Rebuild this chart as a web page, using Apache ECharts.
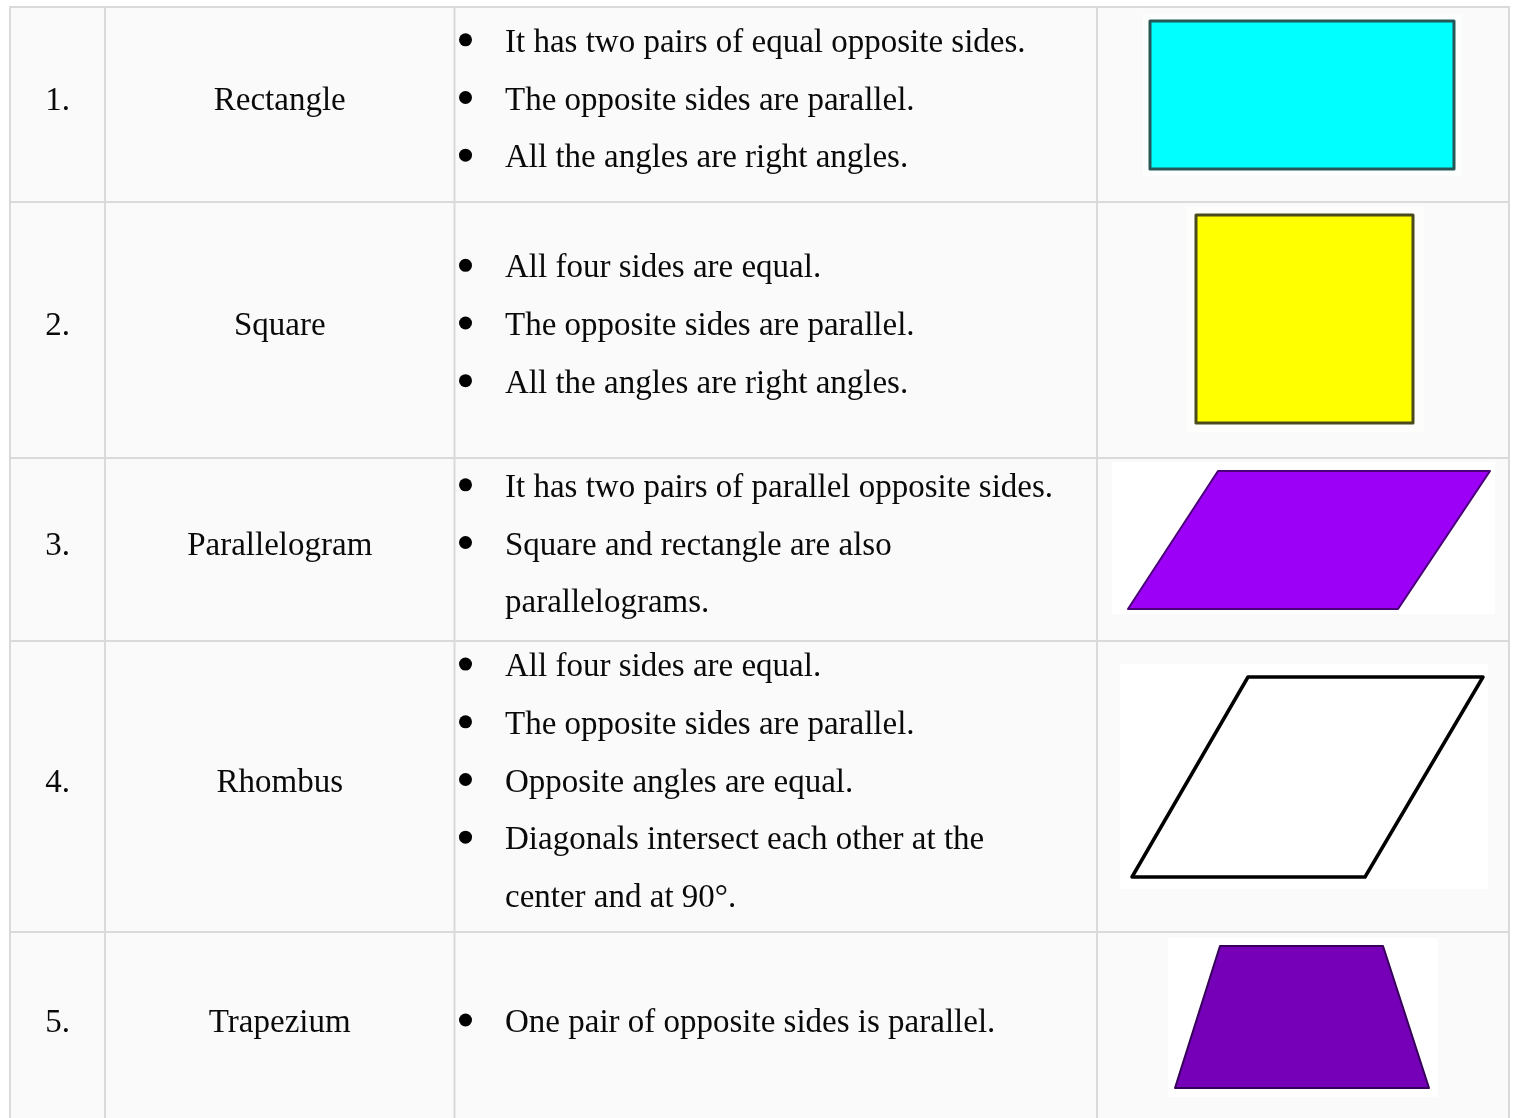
<!DOCTYPE html>
<html><head><meta charset="utf-8">
<script src="https://cdn.jsdelivr.net/npm/echarts@6/dist/echarts.min.js"></script>
<style>html,body{margin:0;padding:0;background:#fff;}#c{width:1514px;height:1118px;}</style>
</head><body><div id="c"></div>
<script>
// ---------- data ----------
const rowNumbers = ['1.', '2.', '3.', '4.', '5.'];
const shapeNames = ['Rectangle', 'Square', 'Parallelogram', 'Rhombus', 'Trapezium'];
const shapeProperties = [
  [['It has two pairs of equal opposite sides.'], ['The opposite sides are parallel.'], ['All the angles are right angles.']],
  [['All four sides are equal.'], ['The opposite sides are parallel.'], ['All the angles are right angles.']],
  [['It has two pairs of parallel opposite sides.'], ['Square and rectangle are also', 'parallelograms.']],
  [['All four sides are equal.'], ['The opposite sides are parallel.'], ['Opposite angles are equal.'], ['Diagonals intersect each other at the', 'center and at 90°.']],
  [['One pair of opposite sides is parallel.']]
];
// shape geometry (drawing units): top side, bottom side, height, shift of top-left corner vs bottom-left corner
const shapeTopSide = [304, 217, 272, 235, 163];
const shapeBottomSide = [304, 217, 270, 233, 254];
const shapeHeight = [148, 208, 138, 200, 142];
const shapeTopShift = [0, 0, 90, 116, 45];

// ---------- layout ----------
const colEdges = [10, 105, 454.5, 1097, 1509];
const rowEdges = [7, 202, 458, 641, 932, 1122];
const shapeCenterX = [1302, 1304.5, 1309, 1307.5, 1302];
const shapeCenterY = [95, 319, 540, 777, 1017];
const imageBox = [[1143, 14, 1462, 176], [1186, 207, 1424, 432], [1112, 462, 1495, 614], [1120, 664, 1488, 889], [1168, 938, 1438, 1097]];
const lineStep = 57.7;
const textLift = 7;
const textDrop = 3.5;
const bulletX = 465.5, textX = 505;

// ---------- styles ----------
const shapeFill = ['#00ffff', '#ffff00', '#9c00f7', '#ffffff', '#7500b8'];
const shapeStroke = ['#265656', '#4a4a1c', '#4a0078', '#000000', '#36005a'];
const shapeStrokeW = [3, 3, 2, 3.5, 2];
const imageBg = ['#fcfefe', '#fdfdfb', '#ffffff', '#ffffff', '#ffffff'];
const gridColor = '#dadada';
const cellBg = '#fafafa';
const textColor = '#0a0a0a';
const FONT = '"Liberation Serif", "DejaVu Serif", serif';
const FS = 33;

function renderItem(params, api) {
  const i = api.value(0);
  const P = (x, y) => api.coord([x, y]);
  const ch = [];
  const top = rowEdges[i], bot = rowEdges[i + 1];
  const a = P(colEdges[0], top), b = P(colEdges[4], bot);
  ch.push({type: 'rect', shape: {x: a[0], y: a[1], width: b[0] - a[0], height: b[1] - a[1]}, style: {fill: cellBg}});
  // image background
  const ib = imageBox[i];
  const ia = P(ib[0], ib[1]), ibb = P(ib[2], ib[3]);
  ch.push({type: 'rect', shape: {x: ia[0], y: ia[1], width: ibb[0] - ia[0], height: ibb[1] - ia[1]}, style: {fill: imageBg[i]}});
  // grid lines
  const hl1 = P(colEdges[0] - 1, top), hl2 = P(colEdges[4] + 1, top);
  ch.push({type: 'line', shape: {x1: hl1[0], y1: hl1[1], x2: hl2[0], y2: hl2[1]}, style: {stroke: gridColor, lineWidth: 2}});
  colEdges.forEach(cx => {
    const v1 = P(cx, top), v2 = P(cx, bot);
    ch.push({type: 'line', shape: {x1: v1[0], y1: v1[1], x2: v2[0], y2: v2[1]}, style: {stroke: gridColor, lineWidth: 2}});
  });
  // texts
  const mid = (top + bot) / 2 - textLift;
  const numP = P((colEdges[0] + colEdges[1]) / 2, mid + textDrop);
  ch.push({type: 'text', style: {text: rowNumbers[i], x: numP[0], y: numP[1], fill: textColor, fontSize: FS, fontFamily: FONT, align: 'center', verticalAlign: 'middle'}});
  const nameP = P((colEdges[1] + colEdges[2]) / 2, mid + textDrop);
  ch.push({type: 'text', style: {text: shapeNames[i], x: nameP[0], y: nameP[1], fill: textColor, fontSize: FS, fontFamily: FONT, align: 'center', verticalAlign: 'middle'}});
  const items = shapeProperties[i];
  const nLines = items.reduce((s, it) => s + it.length, 0);
  let k = 0;
  items.forEach(it => {
    it.forEach((line, j) => {
      const y = mid + (k - (nLines - 1) / 2) * lineStep;
      if (j === 0) {
        const bp = P(bulletX, y);
        ch.push({type: 'circle', shape: {cx: bp[0], cy: bp[1], r: 6.5}, style: {fill: '#000'}});
      }
      const tp = P(textX, y + textDrop);
      ch.push({type: 'text', style: {text: line, x: tp[0], y: tp[1], fill: textColor, fontSize: FS, fontFamily: FONT, align: 'left', verticalAlign: 'middle'}});
      k++;
    });
  });
  // shape
  const tw = shapeTopSide[i], bw = shapeBottomSide[i], h = shapeHeight[i], sh = shapeTopShift[i];
  const minX = Math.min(0, sh), maxX = Math.max(sh + tw, bw);
  const ox = shapeCenterX[i] - (minX + maxX) / 2, oy = shapeCenterY[i] - h / 2;
  const pts = [[sh, 0], [sh + tw, 0], [bw, h], [0, h]].map(p => P(ox + p[0], oy + p[1]));
  ch.push({type: 'polygon', shape: {points: pts}, style: {fill: shapeFill[i], stroke: shapeStroke[i], lineWidth: shapeStrokeW[i], lineJoin: 'round'}});
  return {type: 'group', children: ch};
}

const chart = echarts.init(document.getElementById('c'), null, {renderer: 'canvas'});
chart.setOption({
  backgroundColor: '#ffffff',
  animation: false,
  grid: {left: 0, right: 0, top: 0, bottom: 0},
  xAxis: {type: 'value', min: 0, max: 1514, show: false},
  yAxis: {type: 'value', min: 0, max: 1118, inverse: true, show: false},
  series: [{
    type: 'custom',
    clip: false,
    renderItem: renderItem,
    data: rowNumbers.map((_, i) => [i])
  }]
});
</script></body></html>
